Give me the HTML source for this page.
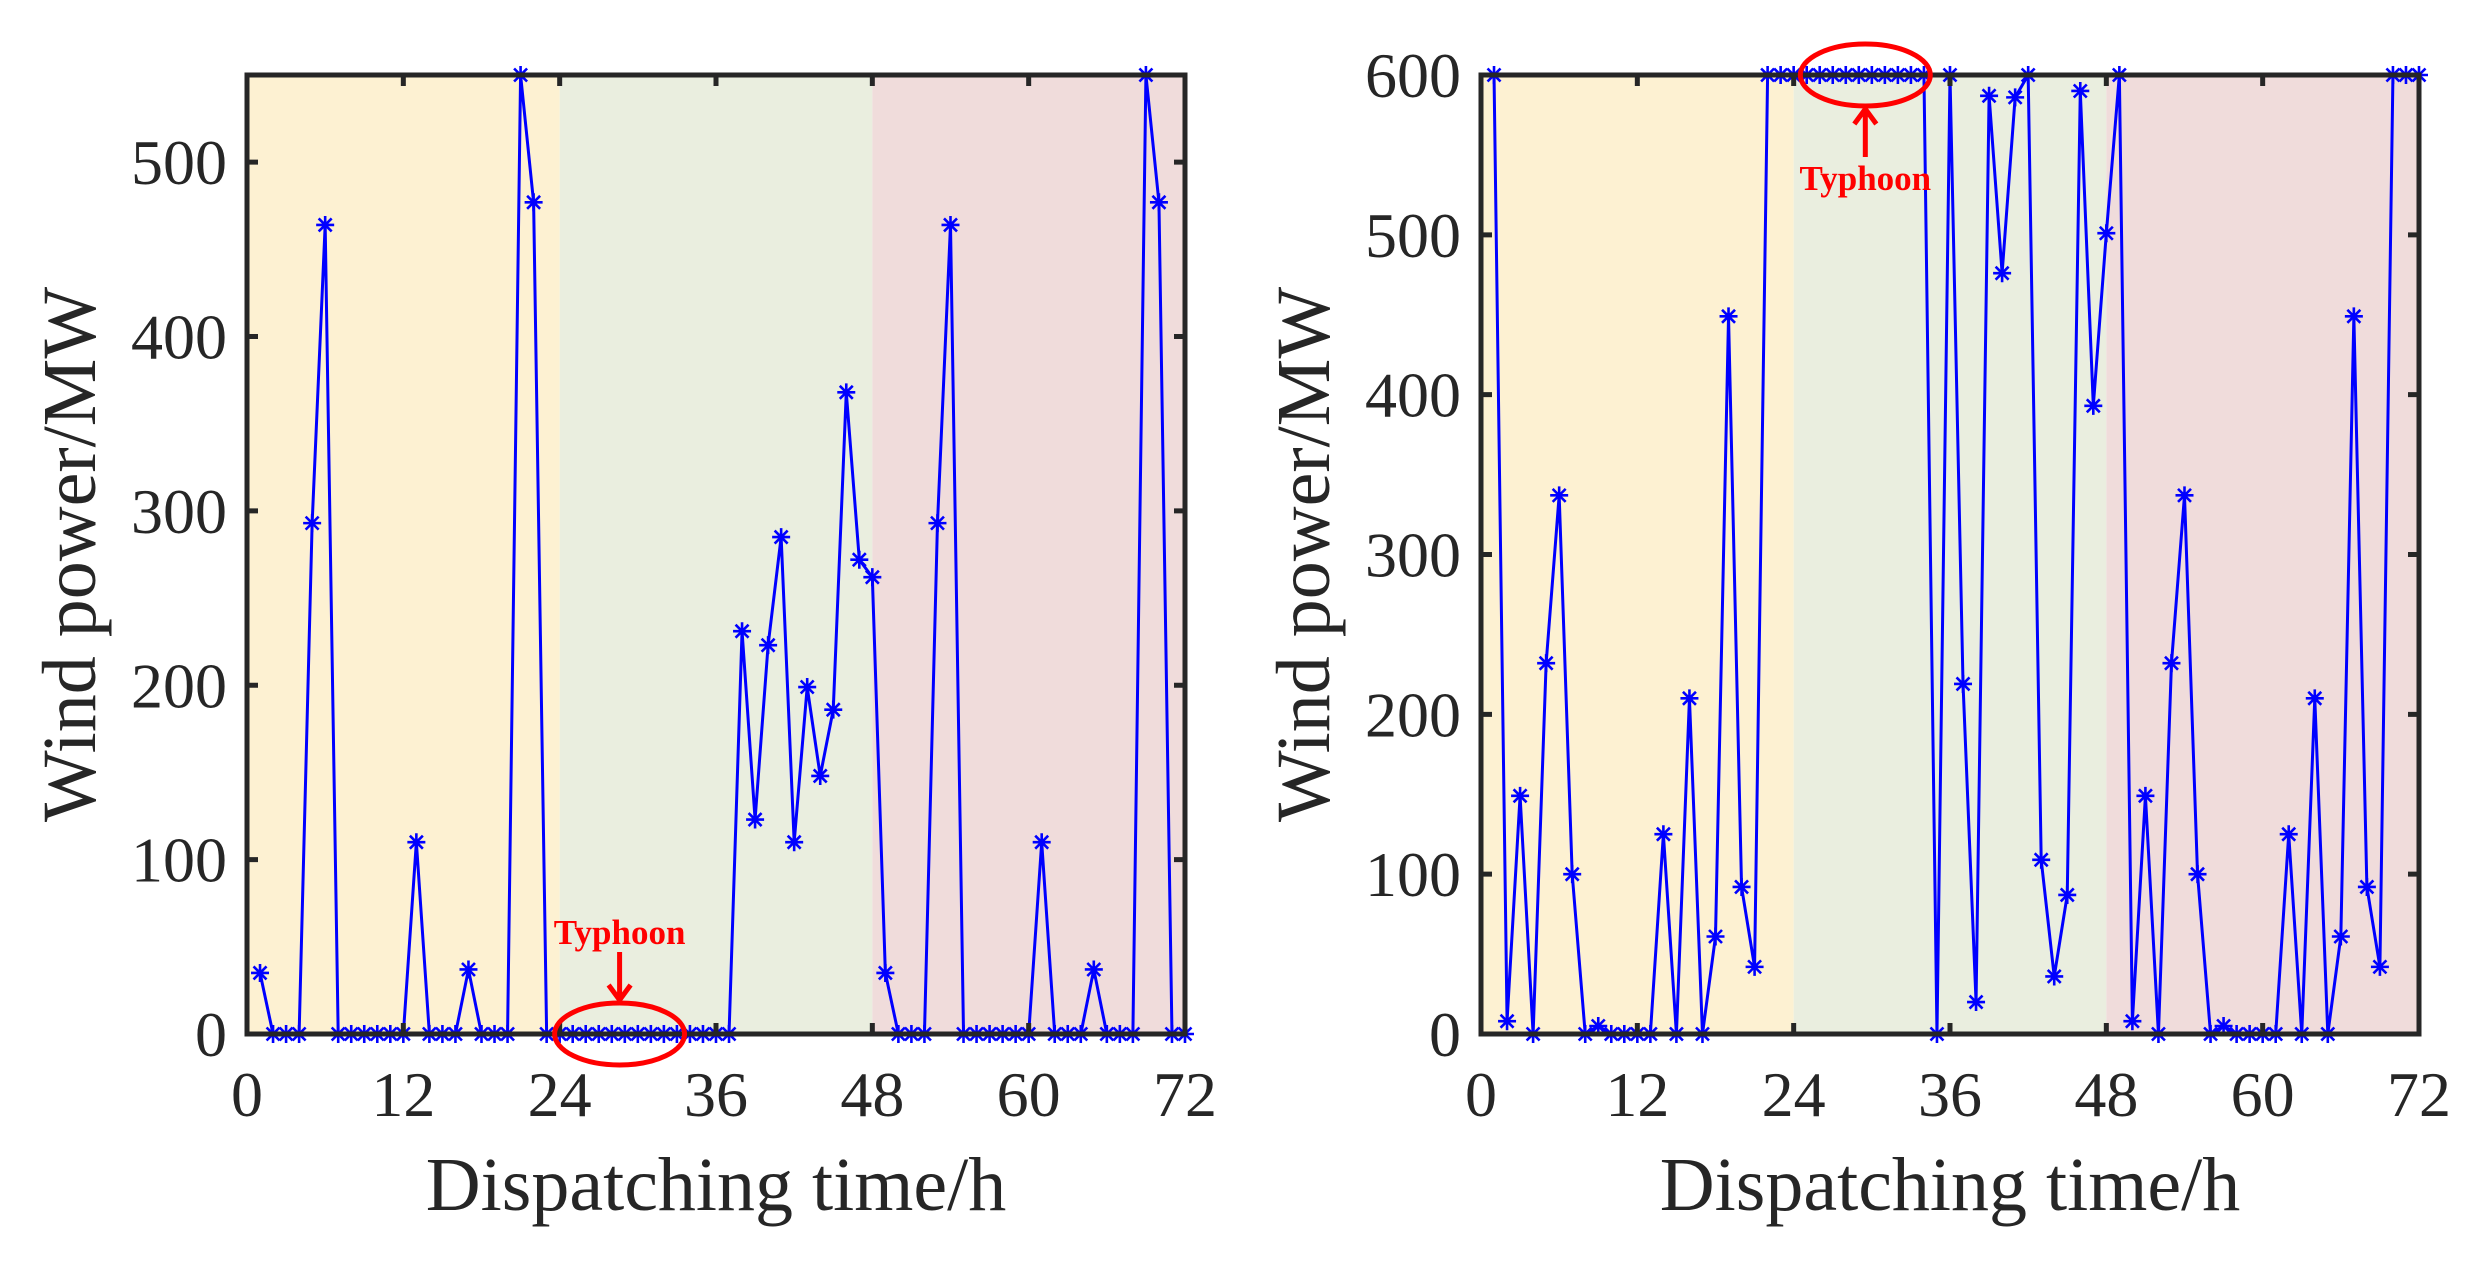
<!DOCTYPE html>
<html><head><meta charset="utf-8"><style>
body{margin:0;background:#fff}
svg{display:block;font-family:"Liberation Serif",serif}
</style></head><body>
<svg id="chart" width="2491" height="1271" viewBox="0 0 2491 1271"></svg>
<script>
const hours = Array.from({length:72},(_,i)=>i+1);
const leftValues = [35,0,0,0,293,464,0,0,0,0,0,0,110,0,0,0,37,0,0,0,550,477,0,0,
 0,0,0,0,0,0,0,0,0,0,0,0,0,231,123,223,285,110,199,148,186,368,272,262,
 35,0,0,0,293,464,0,0,0,0,0,0,110,0,0,0,37,0,0,0,550,477,0,0];
const rightValues = [600,8,149,0,232,337,100,0,5,0,0,0,0,125,0,210,0,61,449,92,42,600,600,600,
 600,600,600,600,600,600,600,600,600,600,0,600,219,20,587,476,586,600,109,36,87,590,393,501,
 600,8,149,0,232,337,100,0,5,0,0,0,0,125,0,210,0,61,449,92,42,600,600,600];
const xTicks = [0,12,24,36,48,60,72];
const leftYTicks = [0,100,200,300,400,500];
const rightYTicks = [0,100,200,300,400,500,600];
const periods = [[0,24,'#fdf1d2'],[24,48,'#eaeedf'],[48,72,'#f0dcdb']];

const NS='http://www.w3.org/2000/svg';
const svg=document.getElementById('chart');
function mk(tag,attrs,parent){const e=document.createElementNS(NS,tag);for(const k in attrs)e.setAttribute(k,attrs[k]);(parent||svg).appendChild(e);return e;}

function panel(id,x0,x1,yTop,yBot,yMax,values,yTicks,ann){
  const g=mk('g',{});
  
  
  const sx=v=>x0+(v/72)*(x1-x0);
  const sy=v=>yBot-(v/yMax)*(yBot-yTop);
  periods.forEach(p=>{
    const r=mk('rect',{x:sx(p[0]),y:yTop,width:sx(p[1])-sx(p[0]),height:yBot-yTop,fill:p[2]},g);
    
    
  });
  let d='';
  values.forEach((v,i)=>{d+=(i?'L':'M')+sx(hours[i])+','+sy(v);});
  const line=mk('path',{d:d,fill:'none',stroke:'#0000ff','stroke-width':3},g);
  
  
  values.forEach((v,i)=>{
    const cx=sx(hours[i]),cy=sy(v),s=9,q=6.5;
    const m=mk('path',{d:`M${cx-s},${cy}L${cx+s},${cy}M${cx},${cy-s}L${cx},${cy+s}M${cx-q},${cy-q}L${cx+q},${cy+q}M${cx-q},${cy+q}L${cx+q},${cy-q}`,stroke:'#0000ff','stroke-width':2.6},g);
    
    
  });
  const ax=mk('rect',{x:x0,y:yTop,width:x1-x0,height:yBot-yTop,fill:'none',stroke:'#262626','stroke-width':5},g);
  
  
  xTicks.forEach(t=>{
    const x=sx(t);
    mk('path',{d:`M${x},${yBot}L${x},${yBot-11}M${x},${yTop}L${x},${yTop+11}`,stroke:'#262626','stroke-width':5},g);
    const tx=mk('text',{x:x,y:yBot+82,'text-anchor':'middle','font-size':64,fill:'#262626'},g);
    tx.textContent=t;
    
    
  });
  yTicks.forEach(t=>{
    const y=sy(t);
    mk('path',{d:`M${x0},${y}L${x0+11},${y}M${x1},${y}L${x1-11},${y}`,stroke:'#262626','stroke-width':5},g);
    const tx=mk('text',{x:x0-20,y:y+22,'text-anchor':'end','font-size':64,fill:'#262626'},g);
    tx.textContent=t;
    
    
  });
  const xt=mk('text',{x:(x0+x1)/2,y:1210,'text-anchor':'middle','font-size':76,fill:'#262626'},g);
  xt.textContent='Dispatching time/h';
  
  
  const yx=x0-152, yc=(yTop+yBot)/2;
  const yt=mk('text',{x:yx,y:yc,'text-anchor':'middle','font-size':76,fill:'#262626',transform:`rotate(-90 ${yx} ${yc})`},g);
  yt.textContent='Wind power/MW';
  
  
  const cx=sx(ann.h), cy=sy(ann.v);
  const el=mk('ellipse',{cx:cx,cy:cy,rx:65,ry:31,fill:'none',stroke:'#ff0000','stroke-width':5},g);
  
  
  let ad;
  if(ann.up){const t=cy+34,b=cy+82;ad=`M${cx},${b}L${cx},${t}M${cx-11},${t+15}L${cx},${t}L${cx+11},${t+15}`;}
  else{const t=cy-82,b=cy-34;ad=`M${cx},${t}L${cx},${b}M${cx-11},${b-15}L${cx},${b}L${cx+11},${b-15}`;}
  const ar=mk('path',{d:ad,fill:'none',stroke:'#ff0000','stroke-width':5},g);
  
  
  const tt=mk('text',{x:cx,y:ann.up?cy+115:cy-90,'text-anchor':'middle','font-size':35,'font-weight':'bold',fill:'#ff0000'},g);
  tt.textContent='Typhoon';
  
  
}
panel('left-panel',247,1185,75,1034,550,leftValues,leftYTicks,{h:28.6,v:0,up:false});
panel('right-panel',1481,2419,75,1034,600,rightValues,rightYTicks,{h:29.5,v:600,up:true});
</script>
</body></html>
